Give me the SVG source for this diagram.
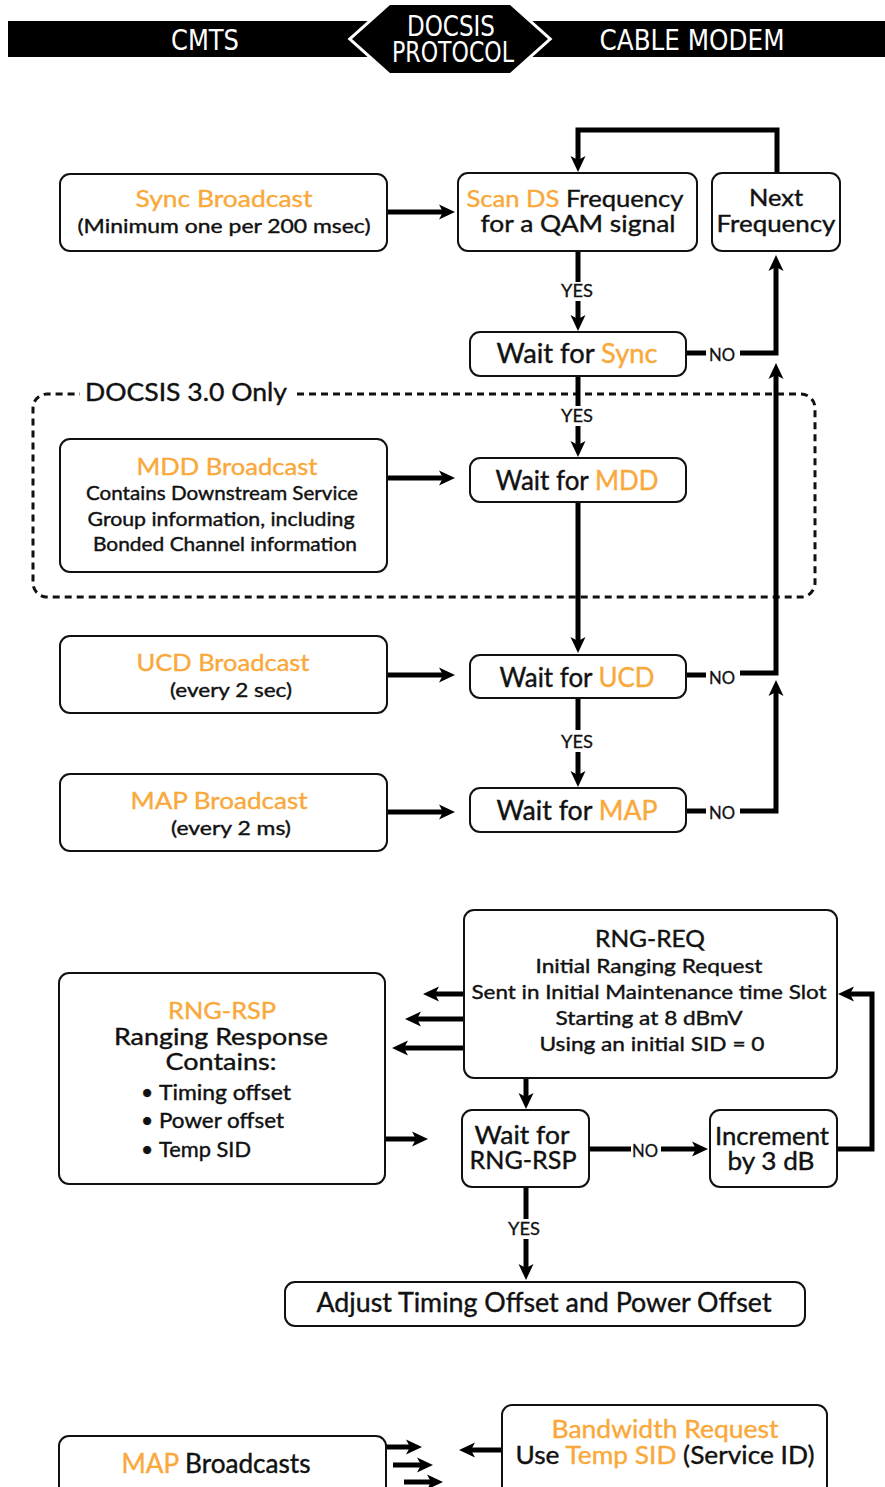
<svg xmlns="http://www.w3.org/2000/svg" width="885" height="1487" viewBox="0 0 885 1487">
<style>
  .box{fill:#fff;stroke:#111;stroke-width:2}
  .t{font-family:Lato,"Open Sans","DejaVu Sans",sans-serif;fill:#111;stroke:#111;stroke-width:0.4;text-anchor:middle}
  .o{fill:#F9A93B;stroke:#F9A93B}
  .hd{font-family:"Liberation Sans Narrow","DejaVu Sans Condensed","Liberation Sans",sans-serif;fill:#fff;text-anchor:middle;font-size:28px}
  .ln{fill:none;stroke:#000;stroke-width:5}
  .ar{marker-end:url(#ah)}
  .lbl{font-family:Lato,"Open Sans","DejaVu Sans",sans-serif;fill:#111;stroke:#111;stroke-width:0.3;text-anchor:middle;font-size:18px}
</style>
<defs>
  <marker id="ah" viewBox="-16 -8 16 16" markerWidth="16" markerHeight="16" refX="-10" refY="0" orient="auto" markerUnits="userSpaceOnUse">
    <path d="M0,0 L-16,-7.5 L-12,0 L-16,7.5 Z" fill="#000"/>
  </marker>
</defs>
<rect width="885" height="1487" fill="#fff"/>

<g id="header">
  <rect x="8" y="21" width="877" height="36" fill="#000"/>
  <polygon points="352,39 390,5 510,5 548,39 510,73 390,73" fill="#000" stroke="#fff" stroke-width="6" paint-order="stroke fill" stroke-linejoin="miter"/>
  <text class="hd" x="205" y="50" textLength="68" lengthAdjust="spacingAndGlyphs">CMTS</text>
  <text class="hd" x="692" y="50" textLength="185" lengthAdjust="spacingAndGlyphs">CABLE MODEM</text>
  <text class="hd" x="451" y="36" textLength="88" lengthAdjust="spacingAndGlyphs">DOCSIS</text>
  <text class="hd" x="453" y="62" textLength="122" lengthAdjust="spacingAndGlyphs">PROTOCOL</text>
</g>

<g id="docsis30">
  <path d="M297,394 H801 A14,14 0 0 1 815,408 V583 A14,14 0 0 1 801,597 H47 A14,14 0 0 1 33,583 V408 A14,14 0 0 1 47,394 H80" fill="none" stroke="#111" stroke-width="3" stroke-dasharray="7 5"/>
  <text class="t" x="85" y="401" style="text-anchor:start" font-size="25" textLength="202" lengthAdjust="spacingAndGlyphs">DOCSIS 3.0 Only</text>
</g>

<g id="connectors">
  <path class="ln ar" d="M387,212 H445"/>
  <path class="ln ar" d="M777,174 V130 H578 V162"/>
  <path class="ln" d="M578,251 V282"/>
  <path class="ln ar" d="M578,301 V321"/>
  <path class="ln" d="M686,353 H706"/>
  <path class="ln ar" d="M740,353 H776 V265"/>
  <path class="ln" d="M578,376 V406"/>
  <path class="ln ar" d="M578,426 V447"/>
  <path class="ln ar" d="M387,478 H445"/>
  <path class="ln ar" d="M578,502 V643"/>
  <path class="ln ar" d="M387,675 H445"/>
  <path class="ln" d="M686,675 H706"/>
  <path class="ln ar" d="M740,673 H776 V373"/>
  <path class="ln" d="M578,698 V730"/>
  <path class="ln ar" d="M578,752 V777"/>
  <path class="ln ar" d="M387,812 H445"/>
  <path class="ln" d="M686,811 H706"/>
  <path class="ln ar" d="M740,811 H776 V690"/>

  <path class="ln ar" d="M464,994 H433"/>
  <path class="ln ar" d="M464,1019 H415"/>
  <path class="ln ar" d="M464,1048 H402"/>
  <path class="ln ar" d="M385,1139 H418"/>
  <path class="ln ar" d="M526,1078 V1099"/>
  <path class="ln" d="M589,1149 H631"/>
  <path class="ln ar" d="M661,1149 H698"/>
  <path class="ln ar" d="M837,1149 H872 V994 H848"/>
  <path class="ln" d="M526,1188 V1219"/>
  <path class="ln ar" d="M526,1239 V1270"/>

  <path class="ln ar" d="M386,1447 H412"/>
  <path class="ln ar" d="M393,1465 H423"/>
  <path class="ln ar" d="M404,1482 H433"/>
  <path class="ln ar" d="M502,1450 H469"/>

  <text class="lbl" x="577" y="297" textLength="32" lengthAdjust="spacingAndGlyphs">YES</text>
  <text class="lbl" x="722" y="361" textLength="26" lengthAdjust="spacingAndGlyphs">NO</text>
  <text class="lbl" x="577" y="422" textLength="32" lengthAdjust="spacingAndGlyphs">YES</text>
  <text class="lbl" x="722" y="684" textLength="26" lengthAdjust="spacingAndGlyphs">NO</text>
  <text class="lbl" x="577" y="748" textLength="32" lengthAdjust="spacingAndGlyphs">YES</text>
  <text class="lbl" x="722" y="819" textLength="26" lengthAdjust="spacingAndGlyphs">NO</text>
  <text class="lbl" x="645" y="1157" textLength="26" lengthAdjust="spacingAndGlyphs">NO</text>
  <text class="lbl" x="524" y="1235" textLength="32" lengthAdjust="spacingAndGlyphs">YES</text>
</g>

<g id="sync-broadcast">
  <rect class="box" x="60" y="174" width="327" height="77" rx="10"/>
  <text class="t o" x="224" y="207" font-size="24" textLength="177" lengthAdjust="spacingAndGlyphs">Sync Broadcast</text>
  <text class="t" x="224" y="233" font-size="20" textLength="293" lengthAdjust="spacingAndGlyphs">(Minimum one per 200 msec)</text>
</g>

<g id="scan-ds">
  <rect class="box" x="458" y="173" width="239" height="78" rx="10"/>
  <text class="t" x="575" y="207" font-size="24" textLength="217" lengthAdjust="spacingAndGlyphs"><tspan class="o">Scan DS</tspan> Frequency</text>
  <text class="t" x="578" y="232" font-size="24" textLength="195" lengthAdjust="spacingAndGlyphs">for a QAM signal</text>
</g>

<g id="next-frequency">
  <rect class="box" x="712" y="173" width="128" height="78" rx="10"/>
  <text class="t" x="776" y="206" font-size="24" textLength="54" lengthAdjust="spacingAndGlyphs">Next</text>
  <text class="t" x="776" y="232" font-size="24" textLength="119" lengthAdjust="spacingAndGlyphs">Frequency</text>
</g>

<g id="wait-sync">
  <rect class="box" x="470" y="332" width="216" height="44" rx="10"/>
  <text class="t" x="577" y="363" font-size="27" textLength="161" lengthAdjust="spacingAndGlyphs">Wait for <tspan class="o">Sync</tspan></text>
</g>

<g id="mdd-broadcast">
  <rect class="box" x="60" y="439" width="327" height="133" rx="10"/>
  <text class="t o" x="227" y="475" font-size="24" textLength="181" lengthAdjust="spacingAndGlyphs">MDD Broadcast</text>
  <text class="t" x="222" y="500" font-size="19" textLength="272" lengthAdjust="spacingAndGlyphs">Contains Downstream Service</text>
  <text class="t" x="221" y="526" font-size="19" textLength="267" lengthAdjust="spacingAndGlyphs">Group information, including</text>
  <text class="t" x="225" y="551" font-size="19" textLength="264" lengthAdjust="spacingAndGlyphs">Bonded Channel information</text>
</g>

<g id="wait-mdd">
  <rect class="box" x="470" y="458" width="216" height="44" rx="10"/>
  <text class="t" x="577" y="490" font-size="27" textLength="163" lengthAdjust="spacingAndGlyphs">Wait for <tspan class="o">MDD</tspan></text>
</g>

<g id="ucd-broadcast">
  <rect class="box" x="60" y="636" width="327" height="77" rx="10"/>
  <text class="t o" x="223" y="671" font-size="24" textLength="173" lengthAdjust="spacingAndGlyphs">UCD Broadcast</text>
  <text class="t" x="231" y="697" font-size="20" textLength="122" lengthAdjust="spacingAndGlyphs">(every 2 sec)</text>
</g>

<g id="wait-ucd">
  <rect class="box" x="470" y="655" width="216" height="43" rx="10"/>
  <text class="t" x="577" y="687" font-size="27" textLength="155" lengthAdjust="spacingAndGlyphs">Wait for <tspan class="o">UCD</tspan></text>
</g>

<g id="map-broadcast">
  <rect class="box" x="60" y="774" width="327" height="77" rx="10"/>
  <text class="t o" x="219" y="809" font-size="24" textLength="177" lengthAdjust="spacingAndGlyphs">MAP Broadcast</text>
  <text class="t" x="231" y="835" font-size="20" textLength="120" lengthAdjust="spacingAndGlyphs">(every 2 ms)</text>
</g>

<g id="wait-map">
  <rect class="box" x="470" y="788" width="216" height="44" rx="10"/>
  <text class="t" x="577" y="820" font-size="27" textLength="161" lengthAdjust="spacingAndGlyphs">Wait for <tspan class="o">MAP</tspan></text>
</g>

<g id="rng-req">
  <rect class="box" x="464" y="910" width="373" height="168" rx="10"/>
  <text class="t" x="650" y="947" font-size="24" textLength="110" lengthAdjust="spacingAndGlyphs">RNG-REQ</text>
  <text class="t" x="649" y="973" font-size="20" textLength="227" lengthAdjust="spacingAndGlyphs">Initial Ranging Request</text>
  <text class="t" x="649" y="999" font-size="20" textLength="355" lengthAdjust="spacingAndGlyphs">Sent in Initial Maintenance time Slot</text>
  <text class="t" x="649" y="1025" font-size="20" textLength="187" lengthAdjust="spacingAndGlyphs">Starting at 8 dBmV</text>
  <text class="t" x="652" y="1051" font-size="20" textLength="225" lengthAdjust="spacingAndGlyphs">Using an initial SID = 0</text>
</g>

<g id="rng-rsp">
  <rect class="box" x="59" y="973" width="326" height="211" rx="10"/>
  <text class="t o" x="222" y="1019" font-size="24" textLength="108" lengthAdjust="spacingAndGlyphs">RNG-RSP</text>
  <text class="t" x="221" y="1045" font-size="24" textLength="214" lengthAdjust="spacingAndGlyphs">Ranging Response</text>
  <text class="t" x="221" y="1070" font-size="24" textLength="111" lengthAdjust="spacingAndGlyphs">Contains:</text>
  <text class="t" x="147" y="1100" font-size="21">•</text>
  <text class="t" x="159" y="1100" style="text-anchor:start" font-size="21" textLength="132" lengthAdjust="spacingAndGlyphs">Timing offset</text>
  <text class="t" x="147" y="1128" font-size="21">•</text>
  <text class="t" x="159" y="1128" style="text-anchor:start" font-size="21" textLength="125" lengthAdjust="spacingAndGlyphs">Power offset</text>
  <text class="t" x="147" y="1157" font-size="21">•</text>
  <text class="t" x="159" y="1157" style="text-anchor:start" font-size="21" textLength="92" lengthAdjust="spacingAndGlyphs">Temp SID</text>
</g>

<g id="wait-rng-rsp">
  <rect class="box" x="462" y="1110" width="127" height="77" rx="10"/>
  <text class="t" x="522" y="1144" font-size="25" textLength="95" lengthAdjust="spacingAndGlyphs">Wait for</text>
  <text class="t" x="523" y="1169" font-size="25" textLength="107" lengthAdjust="spacingAndGlyphs">RNG-RSP</text>
</g>

<g id="increment">
  <rect class="box" x="710" y="1110" width="127" height="77" rx="10"/>
  <text class="t" x="772" y="1145" font-size="25" textLength="114" lengthAdjust="spacingAndGlyphs">Increment</text>
  <text class="t" x="771" y="1170" font-size="25" textLength="87" lengthAdjust="spacingAndGlyphs">by 3 dB</text>
</g>

<g id="adjust">
  <rect class="box" x="285" y="1282" width="520" height="44" rx="10"/>
  <text class="t" x="544" y="1312" font-size="27" textLength="455" lengthAdjust="spacingAndGlyphs">Adjust Timing Offset and Power Offset</text>
</g>

<g id="map-broadcasts">
  <rect class="box" x="59" y="1436" width="327" height="80" rx="10"/>
  <text class="t" x="216" y="1473" font-size="26" textLength="189" lengthAdjust="spacingAndGlyphs"><tspan class="o">MAP</tspan> Broadcasts</text>
</g>

<g id="bandwidth-request">
  <rect class="box" x="502" y="1405" width="325" height="110" rx="10"/>
  <text class="t o" x="665" y="1438" font-size="25" textLength="227" lengthAdjust="spacingAndGlyphs">Bandwidth Request</text>
  <text class="t" x="665" y="1464" font-size="25" textLength="299" lengthAdjust="spacingAndGlyphs">Use <tspan class="o">Temp SID</tspan> (Service ID)</text>
</g>
</svg>
